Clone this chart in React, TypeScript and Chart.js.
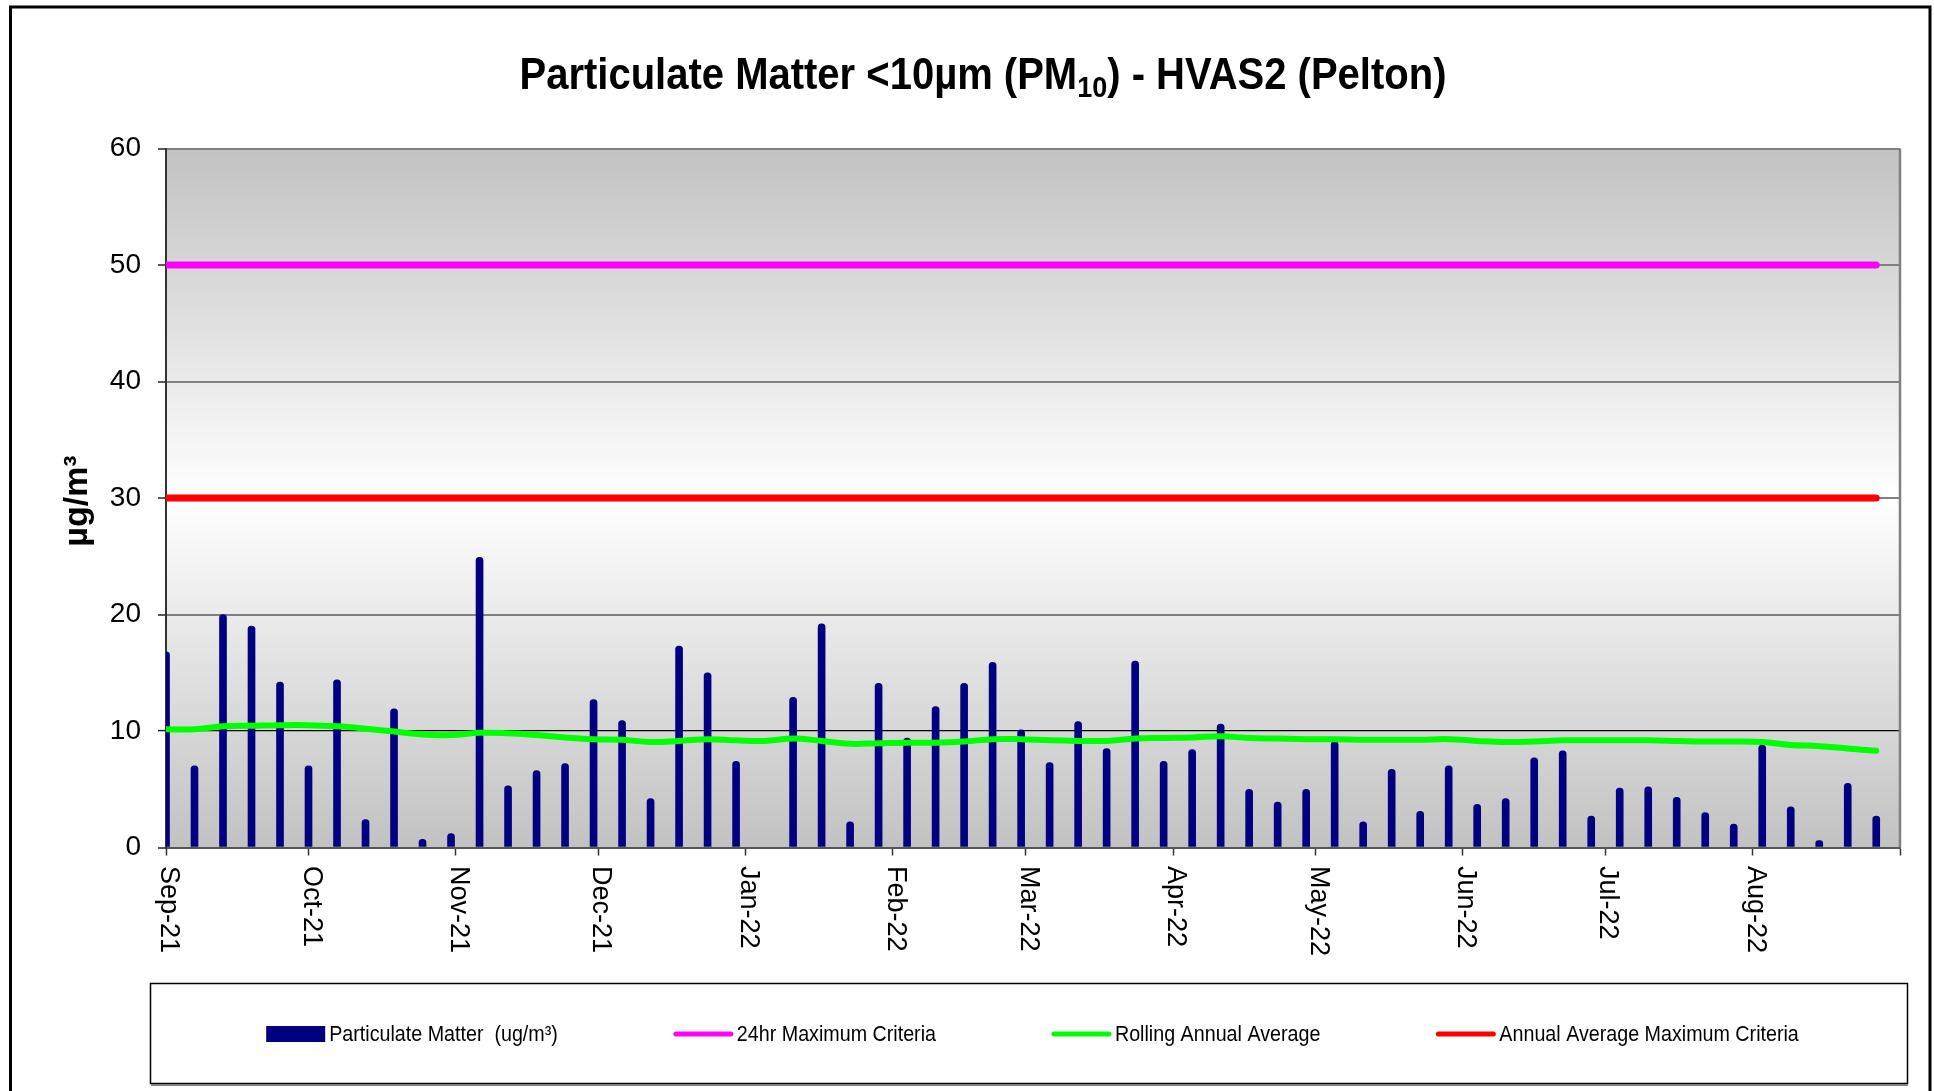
import React, { useEffect, useRef } from 'react';
import { Chart, registerables } from 'chart.js';

Chart.register(...registerables);

// ---------- data ----------
const sampleDates = [
  '2021-09-01', '2021-09-07', '2021-09-13', '2021-09-19', '2021-09-25',
  '2021-10-01', '2021-10-07', '2021-10-13', '2021-10-19', '2021-10-25', '2021-10-31',
  '2021-11-06', '2021-11-12', '2021-11-18', '2021-11-24', '2021-11-30',
  '2021-12-06', '2021-12-12', '2021-12-18', '2021-12-24', '2021-12-30',
  '2022-01-05', '2022-01-11', '2022-01-17', '2022-01-23', '2022-01-29',
  '2022-02-04', '2022-02-10', '2022-02-16', '2022-02-22', '2022-02-28',
  '2022-03-06', '2022-03-12', '2022-03-18', '2022-03-24', '2022-03-30',
  '2022-04-05', '2022-04-11', '2022-04-17', '2022-04-23', '2022-04-29',
  '2022-05-05', '2022-05-11', '2022-05-17', '2022-05-23', '2022-05-29',
  '2022-06-04', '2022-06-10', '2022-06-16', '2022-06-22', '2022-06-28',
  '2022-07-04', '2022-07-10', '2022-07-16', '2022-07-22', '2022-07-28',
  '2022-08-03', '2022-08-09', '2022-08-15', '2022-08-21', '2022-08-27',
];

const pm10Values: (number | null)[] = [
  16.8, 7.0, 20.0, 19.0, 14.2,
  7.0, 14.4, 2.4, 11.9, 0.7, 1.2,
  24.9, 5.3, 6.6, 7.2, 12.7,
  10.9, 4.2, 17.3, 15.0, 7.4,
  null, 12.9, 19.2, 2.2, 14.1,
  9.4, 12.1, 14.1, 15.9, 10.1,
  7.3, 10.8, 8.5, 16.0, 7.4,
  8.4, 10.6, 5.0, 3.9, 5.0,
  9.1, 2.2, 6.7, 3.1, 7.0,
  3.7, 4.2, 7.7, 8.3, 2.7,
  5.1, 5.2, 4.3, 3.0, 2.0,
  8.8, 3.5, 0.6, 5.5, 2.7,
];

const rollingAverage = [
  10.15, 10.15, 10.4, 10.45, 10.5,
  10.5, 10.4, 10.2, 9.95, 9.7, 9.65,
  9.85, 9.8, 9.65, 9.45, 9.3,
  9.25, 9.05, 9.15, 9.3, 9.2,
  9.15, 9.35, 9.15, 8.9, 8.95,
  9.0, 9.0, 9.1, 9.3, 9.3,
  9.2, 9.15, 9.15, 9.35, 9.4,
  9.45, 9.55, 9.4, 9.35, 9.3,
  9.3, 9.25, 9.25, 9.25, 9.3,
  9.15, 9.05, 9.1, 9.2, 9.2,
  9.2, 9.2, 9.15, 9.1, 9.1,
  9.05, 8.8, 8.7, 8.5, 8.3, 8.25,
].slice(0, 61);

const criteria24hr = 50;
const annualCriteria = 30;

const monthTickDates = [
  '2021-09-01', '2021-10-01', '2021-11-01', '2021-12-01', '2022-01-01', '2022-02-01',
  '2022-03-01', '2022-04-01', '2022-05-01', '2022-06-01', '2022-07-01', '2022-08-01', '2022-09-01',
];
const monthTickLabels = [
  'Sep-21', 'Oct-21', 'Nov-21', 'Dec-21', 'Jan-22', 'Feb-22',
  'Mar-22', 'Apr-22', 'May-22', 'Jun-22', 'Jul-22', 'Aug-22', '',
];

const axisStart = '2021-09-01';
const axisEnd = '2022-09-01';
const yMin = 0;
const yMax = 60;
const yStep = 10;

const seriesLabels = [
  'Particulate Matter  (ug/m³)',
  '24hr Maximum Criteria',
  'Rolling Annual Average',
  'Annual Average Maximum Criteria',
];

// ---------- helpers ----------
function utc(s: string) {
  const [y, m, d] = s.split('-').map(Number);
  return Date.UTC(y, m - 1, d);
}
function dayIndex(s: string) {
  return (utc(s) - utc(axisStart)) / 86400000;
}

const FONT = '"Liberation Sans", Arial, sans-serif';

const decorPlugin = {
  id: 'decor',
  beforeDraw(chart: any) {
    const { ctx, chartArea } = chart;
    ctx.save();
    ctx.fillStyle = '#ffffff';
    ctx.fillRect(0, 0, chart.width, chart.height);
    // outer frame
    ctx.strokeStyle = '#000';
    ctx.lineWidth = 3;
    ctx.strokeRect(10.5, 7, 1919.5, 1200);
    // plot background gradient
    const g = ctx.createLinearGradient(0, chartArea.top, 0, chartArea.bottom);
    g.addColorStop(0, '#c2c2c2');
    g.addColorStop(0.5, '#ffffff');
    g.addColorStop(1, '#c2c2c2');
    ctx.fillStyle = g;
    ctx.fillRect(chartArea.left, chartArea.top, chartArea.right - chartArea.left, chartArea.bottom - chartArea.top);
    ctx.restore();
  },
  beforeDatasetsDraw(chart: any) {
    const { ctx, chartArea } = chart;
    ctx.save();
    ctx.strokeStyle = '#808080';
    ctx.lineWidth = 2.5;
    ctx.beginPath();
    ctx.moveTo(chartArea.right, chartArea.top);
    ctx.lineTo(chartArea.right, chartArea.bottom);
    ctx.stroke();
    ctx.restore();
  },
  afterDraw(chart: any) {
    const { ctx } = chart;
    ctx.save();
    ctx.fillStyle = '#000';

    // ----- title with subscript -----
    const mainFont = `bold 40px ${FONT}`;
    const subFont = `bold 27px ${FONT}`;
    const parts: [string, string, number][] = [
      ['Particulate Matter <10µm (PM', mainFont, 0],
      ['10', subFont, 8],
      [') - HVAS2 (Pelton)', mainFont, 0],
    ];
    let total = 0;
    parts.forEach(([t, f]) => { ctx.font = f; total += ctx.measureText(t).width; });
    let tx = 983 - total / 2;
    ctx.save();
    ctx.translate(0, 89);
    ctx.scale(1, 1.1);
    ctx.textBaseline = 'alphabetic';
    ctx.textAlign = 'left';
    parts.forEach(([t, f, dy]) => {
      ctx.font = f;
      ctx.fillText(t, tx, dy / 1.1);
      tx += ctx.measureText(t).width;
    });
    ctx.restore();

    // ----- y axis title -----
    ctx.save();
    ctx.translate(78, 501);
    ctx.rotate(-Math.PI / 2);
    ctx.font = `bold 34px ${FONT}`;
    ctx.textAlign = 'center';
    ctx.textBaseline = 'middle';
    ctx.fillText('µg/m³', 0, 0);
    ctx.restore();

    // ----- x tick labels, rotated 90° clockwise -----
    const xs = chart.scales.x;
    ctx.font = `27px ${FONT}`;
    xs.ticks.forEach((t: any, i: number) => {
      const label = monthTickLabels[i] || '';
      if (!label) return;
      const px = xs.getPixelForValue(t.value);
      ctx.save();
      ctx.translate(px - 5, 866);
      ctx.rotate(Math.PI / 2);
      ctx.textAlign = 'left';
      ctx.textBaseline = 'alphabetic';
      ctx.fillText(label, 0, 0);
      ctx.restore();
    });

    // ----- legend -----
    ctx.strokeStyle = '#000';
    ctx.lineWidth = 1.5;
    ctx.strokeRect(150.5, 983.5, 1757, 100);
    ctx.strokeStyle = '#808080';
    ctx.lineWidth = 2;
    ctx.beginPath();
    ctx.moveTo(151, 1085);
    ctx.lineTo(1908, 1085);
    ctx.stroke();

    ctx.font = `19.7px ${FONT}`;
    const symW = 59;
    const symGap = 4;
    const itemGap = 116;
    const dsets = chart.data.datasets;
    const widths = dsets.map((d: any) => symW + symGap + ctx.measureText(d.label).width);
    const rowW = widths.reduce((a: number, b: number) => a + b, 0) + itemGap * (dsets.length - 1);
    let lx = 1032.5 - rowW / 2;
    const ly = 1034;
    dsets.forEach((d: any, i: number) => {
      if (d.type === 'bar') {
        ctx.fillStyle = d.backgroundColor;
        ctx.fillRect(lx, ly - 8, symW, 16);
      } else {
        ctx.strokeStyle = d.borderColor;
        ctx.lineWidth = 5;
        ctx.lineCap = 'round';
        ctx.beginPath();
        ctx.moveTo(lx + 2, ly);
        ctx.lineTo(lx + symW - 2, ly);
        ctx.stroke();
      }
      ctx.fillStyle = '#000';
      ctx.textAlign = 'left';
      ctx.textBaseline = 'middle';
      ctx.save();
      ctx.translate(lx + symW + symGap, ly + 1);
      ctx.scale(1, 1.1);
      ctx.fillText(d.label, 0, 0);
      ctx.restore();
      lx += widths[i] + itemGap;
    });
    ctx.restore();
  },
};

export default function App() {
  const canvasRef = useRef<HTMLCanvasElement | null>(null);

  useEffect(() => {
    if (!canvasRef.current) return;
    const xs = sampleDates.map(dayIndex);
    const firstX = xs[0];
    const lastX = xs[xs.length - 1];

    const chart = new Chart(canvasRef.current, {
      type: 'bar',
      data: {
        datasets: [
          {
            type: 'bar',
            label: seriesLabels[0],
            data: xs.map((x, i) => ({ x, y: pm10Values[i] })),
            backgroundColor: '#000080',
            borderWidth: 0,
            barThickness: 7,
            borderRadius: 4,
            order: 2,
          } as any,
          {
            type: 'line',
            label: seriesLabels[1],
            data: [{ x: firstX, y: criteria24hr }, { x: lastX, y: criteria24hr }],
            borderColor: '#ff00ff',
            backgroundColor: '#ff00ff',
            borderWidth: 7,
            pointRadius: 0,
            borderCapStyle: 'round',
            order: 0,
          },
          {
            type: 'line',
            label: seriesLabels[2],
            data: xs.map((x, i) => ({ x, y: rollingAverage[i] })),
            borderColor: '#00ff00',
            backgroundColor: '#00ff00',
            borderWidth: 6,
            pointRadius: 0,
            tension: 0.4,
            borderCapStyle: 'round',
            order: 0,
          },
          {
            type: 'line',
            label: seriesLabels[3],
            data: [{ x: firstX, y: annualCriteria }, { x: lastX, y: annualCriteria }],
            borderColor: '#ff0000',
            backgroundColor: '#ff0000',
            borderWidth: 7,
            pointRadius: 0,
            borderCapStyle: 'round',
            order: 0,
          },
        ],
      },
      options: {
        animation: false,
        responsive: true,
        maintainAspectRatio: false,
        parsing: true,
        layout: { padding: { left: 0, right: 34, top: 148.5, bottom: 0 } },
        plugins: {
          legend: { display: false },
          title: { display: false },
          tooltip: { enabled: false },
        },
        scales: {
          x: {
            type: 'linear',
            min: dayIndex(axisStart),
            max: dayIndex(axisEnd),
            offset: false,
            afterBuildTicks: (scale: any) => {
              scale.ticks = monthTickDates.map((d) => ({ value: dayIndex(d) }));
            },
            afterFit: (scale: any) => { scale.height = 243.5; },
            ticks: { display: false },
            grid: {
              offset: false,
              drawOnChartArea: false,
              drawTicks: true,
              tickLength: 8,
              tickColor: '#333',
              tickWidth: 1.5,
            },
            border: { display: true, color: '#555', width: 2 },
          },
          y: {
            type: 'linear',
            min: yMin,
            max: yMax,
            ticks: {
              stepSize: yStep,
              padding: 17,
              color: '#000',
              font: { size: 28, family: FONT },
            },
            afterFit: (scale: any) => { scale.width = 166; },
            grid: {
              color: (c: any) => (c.tick && c.tick.value === 10 ? '#000' : c.tick && c.tick.value === 0 ? '#555' : '#808080'),
              lineWidth: (c: any) => (c.tick && c.tick.value === 10 ? 1.2 : 2),
              drawTicks: true,
              tickLength: 8,
              tickColor: '#222',
              tickWidth: 1.5,
            },
            border: { display: true, color: '#333', width: 2 },
          },
        },
      } as any,
      plugins: [decorPlugin],
    });
    return () => chart.destroy();
  }, []);

  return (
    <div style={{ position: 'fixed', left: 0, top: 0, width: 1934, height: 1091, background: '#fff' }}>
      <canvas ref={canvasRef} />
    </div>
  );
}
